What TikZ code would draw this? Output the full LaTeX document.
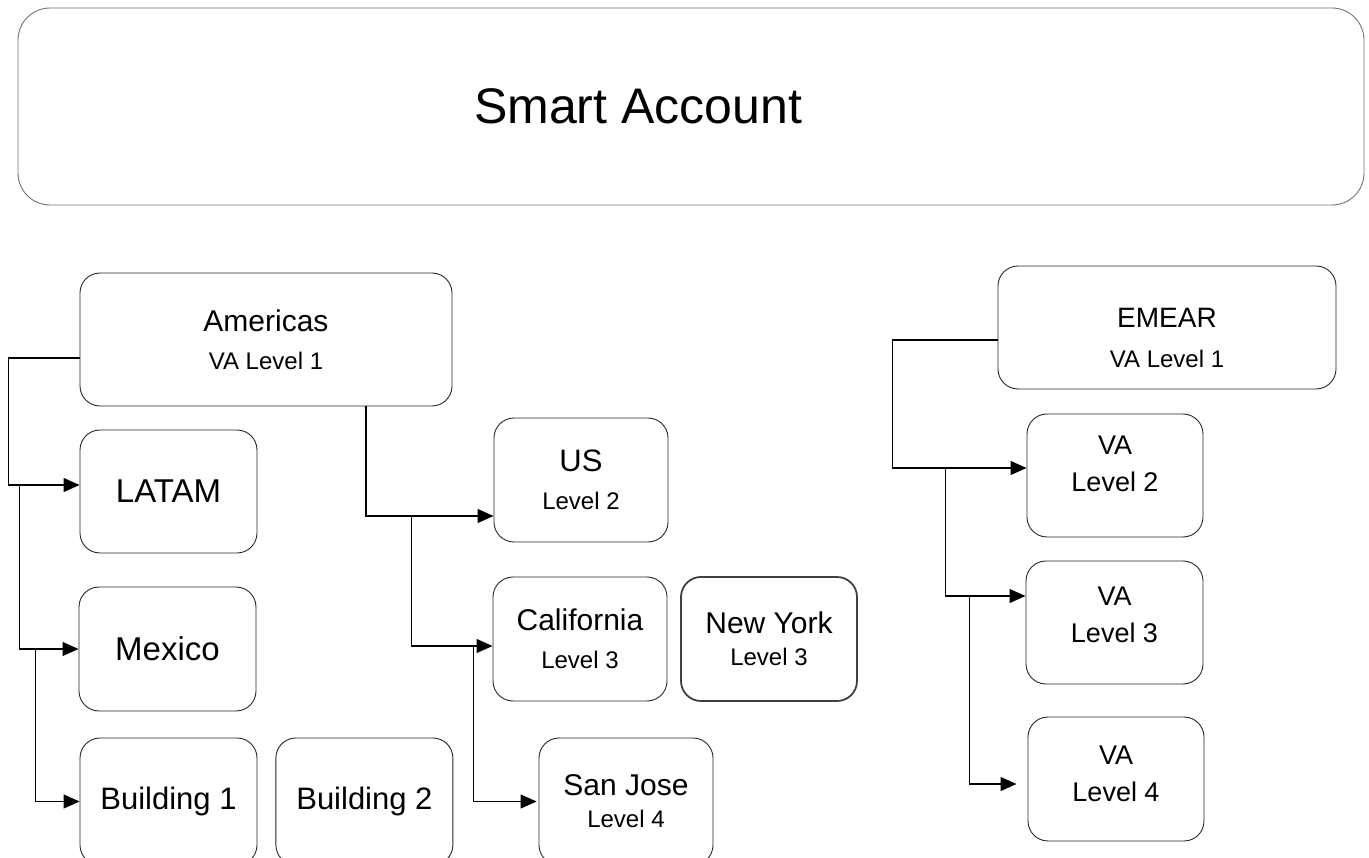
\documentclass[tikz,border=0pt]{standalone}
\usepackage{fontspec}
\setmainfont{Liberation Sans}
\usepackage{tikz}
\usetikzlibrary{arrows.meta, positioning}
\newcommand{\lvl}[1]{{\fontsize{24}{29}\selectfont #1}}

\begin{document}
\begin{tikzpicture}[
        x=1pt, y=-1pt,
        every node/.style={font=\fontsize{30}{38}\selectfont},
        box/.style={rectangle, rounded corners=20pt, draw=black!85, line width=0.9pt,
                    align=center, inner sep=0pt, minimum width=177pt,
                    minimum height=124pt},
        vabox/.style={box, font=\fontsize{27}{37}\selectfont},
        link/.style={-{Triangle[length=16pt, width=14pt]}, line width=1.1pt}
    ]
        \useasboundingbox (0,0) rectangle (1369,858);

        \node[box, minimum width=1346pt, minimum height=197pt, rounded corners=32pt,
              draw=black!55, font=\fontsize{50}{60}\selectfont]
            (smart) at (691,106.5) {Smart Account\hspace*{106pt}};

        % Americas branch
        \node[box, minimum width=372pt, minimum height=133pt] (americas) at (266,339.5)
            {Americas\\\lvl{VA Level 1}};
        \node[box, minimum height=123pt, font=\fontsize{33}{38}\selectfont] (latam) at (168.5,491.5) {LATAM};
        \node[box, font=\fontsize{33}{38}\selectfont] (mexico) at (167.5,649) {Mexico};
        \node[box, minimum height=127pt, font=\fontsize{31}{38}\selectfont] (bldgone) at (168.5,801.5) {Building 1};
        \node[box, minimum height=127pt, font=\fontsize{31}{38}\selectfont, right=18pt of bldgone] (bldgtwo) {Building 2};

        \node[box, minimum width=174pt, font=\fontsize{31}{38}\selectfont] (us) at (581,480) {US\\\lvl{Level 2}};
        \node[box, minimum width=174pt] (calif) at (580,639) {California\\\lvl{Level 3}};
        \node[box, minimum width=176pt, line width=1.8pt, draw=black!75] (newyork) at (769,639)
            {New York\\[-6pt]\lvl{Level 3}};
        \node[box, minimum width=174pt, minimum height=127pt] (sanjose) at (626,801.5)
            {San Jose\\[-6pt]\lvl{Level 4}};

        % EMEAR branch
        \node[box, minimum width=338pt, minimum height=123pt, text height=80pt,
              font=\fontsize{28}{40}\selectfont] (emear) at (1167,327.5)
            {EMEAR\\\lvl{VA Level 1}};
        \node[vabox, minimum width=176pt, minimum height=123pt, text depth=24pt]
            (vatwo) at (1115,475.5) {VA\\Level 2};
        \node[vabox, minimum height=123pt, text depth=16pt]
            (vathree) at (1114.5,622.5) {VA\\Level 3};
        \node[vabox, minimum width=176pt, text depth=10pt]
            (vafour) at (1116,779) {VA\\Level 4};

        \draw[link] ([yshift=-18.5pt]americas.west) -- ++(-71,0) |- ([yshift=6.5pt]latam.west);
        \draw[link] ([xshift=-60pt, yshift=6.5pt]latam.west) |- (mexico.west);
        \draw[link] ([xshift=-43pt]mexico.west) |- (bldgone.west);

        \draw[link] ([xshift=100pt]americas.south) |- ([yshift=-36pt]us.west);
        \draw[line width=1.1pt] ([xshift=-82pt, yshift=-36pt]us.west) -- ++(54,0);
        \draw[link] ([xshift=-82pt, yshift=-36pt]us.west) |- ([yshift=-7pt]calif.west);
        \draw[link] ([xshift=-19pt, yshift=-7pt]calif.west) |- ([xshift=-2pt]sanjose.west);

        \draw[link] ([yshift=-12.5pt]emear.west) -- ++(-105,0) |- ([yshift=7.5pt]vatwo.west);
        \draw[link] ([xshift=-81pt, yshift=7.5pt]vatwo.west) |- ([yshift=26.5pt]vathree.west);
        \draw[link] ([xshift=-56pt, yshift=26.5pt]vathree.west) |- ([xshift=-11pt, yshift=-5pt]vafour.west);
    \end{tikzpicture}
\end{document}
